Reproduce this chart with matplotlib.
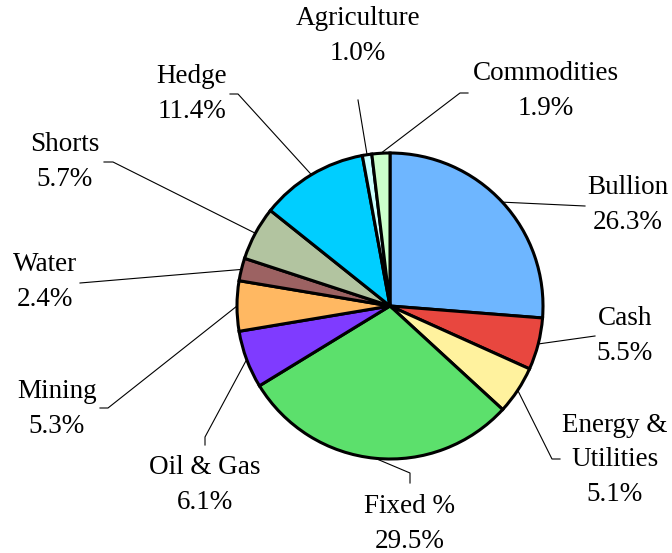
import numpy as np
import matplotlib
matplotlib.use("Agg")
import matplotlib.pyplot as plt

labels = ["Bullion", "Cash", "Energy &\nUtilities", "Fixed %", "Oil & Gas",
          "Mining", "Water", "Shorts", "Hedge", "Agriculture", "Commodities"]
values = [26.3, 5.5, 5.1, 29.5, 6.1, 5.3, 2.4, 5.7, 11.4, 1.0, 1.9]
colors = ["#6EB6FF", "#E8473F", "#FFF29E", "#5CE06C", "#7F3BFF", "#FFB862",
          "#9C6262", "#B2C4A0", "#00CEFF", "#CCFFFF", "#CCFFCC"]

# layout in pixel coords (top-left origin): label centre, leader elbow, leader end
label_pos = [(628, 205), (625, 336), (615, 460), (410, 524), (205, 485),
             (57, 409), (45, 282), (65, 162), (192, 94), (358, 36), (546, 91)]
leader_pts = [[(585, 206)], [(595, 336)], [(552, 459), (560, 459)],
              [(410, 473), (410, 483)], [(205, 437), (205, 445)],
              [(108, 408), (100, 408)], [(80, 283)], [(113, 162), (104, 162)],
              [(238, 94), (230, 94)], [(358, 100)], [(460, 93), (468, 93)]]

W, H = 672, 553
cx, cy, r = 390, 306, 153

plt.rcParams['font.family'] = ['Liberation Serif', 'DejaVu Serif']
fig = plt.figure(figsize=(W / 100, H / 100), dpi=100)
ax = fig.add_axes([0, 0, 1, 1])

wedges, _ = ax.pie(values, colors=colors, startangle=90, counterclock=False,
                   center=(cx, H - cy), radius=r,
                   wedgeprops=dict(edgecolor='black', linewidth=2.2))
ax.set_xlim(0, W)
ax.set_ylim(0, H)
ax.set_aspect('equal')
ax.axis('off')

total = sum(values)
cum = np.cumsum(values) - np.array(values) / 2
for i, lab in enumerate(labels):
    ang = np.deg2rad(90 - cum[i] / total * 360)
    x0 = cx + r * np.cos(ang)
    y0 = (H - cy) + r * np.sin(ang)
    xs = [x0] + [p[0] for p in leader_pts[i]]
    ys = [y0] + [H - p[1] for p in leader_pts[i]]
    ax.plot(xs, ys, color='black', lw=0.8)
    pct = "%.1f%%" % values[i]
    ax.text(label_pos[i][0], H - label_pos[i][1], lab + "\n" + pct,
            ha='center', va='center', fontsize=19.5, linespacing=1.5)

fig.savefig("out.png", dpi=100)
